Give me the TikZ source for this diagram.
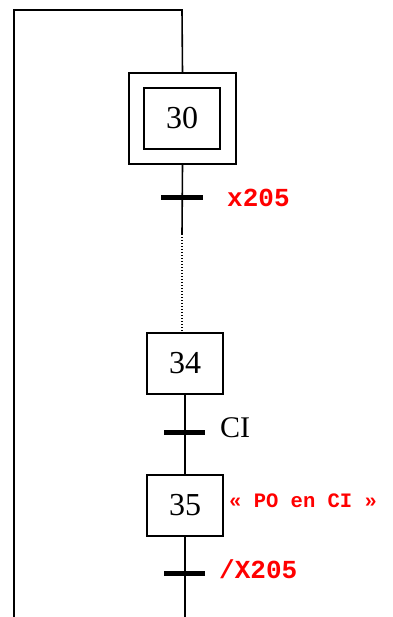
\documentclass[tikz,border=0pt]{standalone}
\usepackage{fontspec}
\setmainfont{Liberation Serif}
\newfontfamily\monob{Liberation Mono}
\begin{document}
\begin{tikzpicture}[x=1pt,y=-1pt,
  stepbox/.style={draw,line width=1.5pt,minimum width=76pt,minimum height=61pt,inner sep=0pt,font=\fontsize{32}{32}\selectfont},
  link/.style={line width=1.6pt},
  bar/.style={line width=5pt},
  lbl/.style={text=red,inner sep=0pt,anchor=base west,font=\monob\bfseries\fontsize{26}{26}\selectfont},
  slbl/.style={text=red,inner sep=0pt,anchor=base west,font=\monob\bfseries\fontsize{20.5}{20.5}\selectfont}]
\useasboundingbox (0,0) rectangle (392,617);
% steps
\node[draw,line width=1.5pt,minimum width=107pt,minimum height=91pt,inner sep=0pt] (s30o) at (182.5,118.5) {};
\node[stepbox] (s30) at (182,118.5) {30};
\node[stepbox] (s34) at (185,363.5) {34};
\node[stepbox] (s35) at (185,505.5) {35};
% coordinates
\coordinate (tl) at (14,10);
\coordinate (tr) at (182,10);
\coordinate (bl) at (14,617);
\coordinate (br) at (185,617);
\coordinate (dotA) at (182,234);
\coordinate (dotB) at (182,331);
\coordinate (t1) at (182,198);
\coordinate (t2) at (185,432);
\coordinate (t3) at (185,573);
% links
\draw[link] (bl) -- (tl) -- (tr) -- (s30o.north);
\draw[link] (s30o.south) -- (dotA);
\draw[line width=1.1pt,dash pattern=on 1.1pt off 1.9pt] (dotA) -- (dotB);
\draw[link] (s34.south) -- (s35.north);
\draw[link] (s35.south) -- (br);
% transitions
\draw[bar] ([xshift=-21pt]t1) -- ([xshift=21pt]t1);
\draw[bar] ([xshift=-21pt]t2) -- ([xshift=20pt]t2);
\draw[bar] ([xshift=-21pt]t3) -- ([xshift=20pt]t3);
% labels
\node[lbl] (l1) at (227,207) {x205};
\node[inner sep=0pt,anchor=base west,font=\fontsize{30}{30}\selectfont] (l2) at (220,437) {CI};
\node[slbl] (l3) at (229,507) {«~PO en CI~»};
\node[lbl] (l4) at (219,578) {/X205};
\end{tikzpicture}
\end{document}
